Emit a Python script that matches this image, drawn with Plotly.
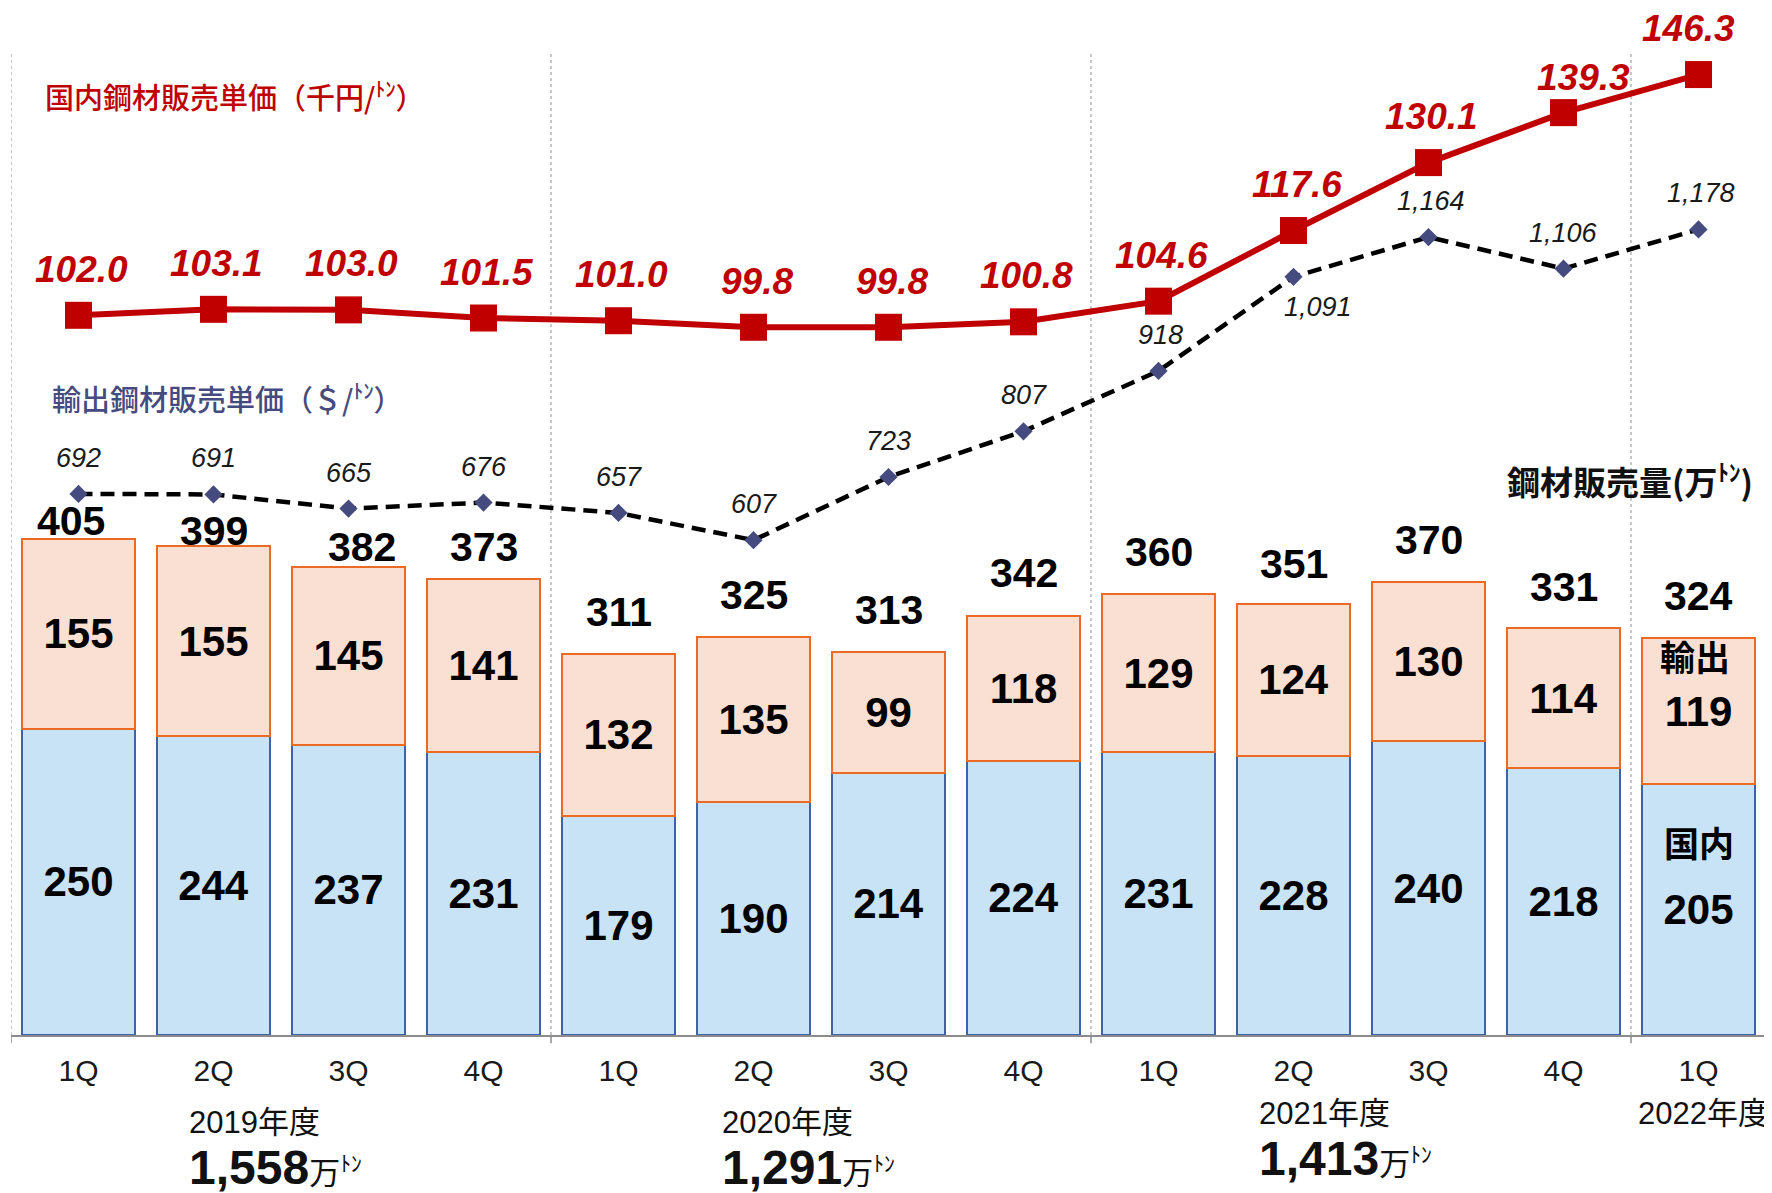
import plotly.graph_objects as go

# ---------------- data ----------------
categories = ["FY19-1Q", "FY19-2Q", "FY19-3Q", "FY19-4Q",
              "FY20-1Q", "FY20-2Q", "FY20-3Q", "FY20-4Q",
              "FY21-1Q", "FY21-2Q", "FY21-3Q", "FY21-4Q",
              "FY22-1Q"]
quarter_labels = ["1Q", "2Q", "3Q", "4Q", "1Q", "2Q", "3Q", "4Q",
                  "1Q", "2Q", "3Q", "4Q", "1Q"]
domestic_volume = [250, 244, 237, 231, 179, 190, 214, 224, 231, 228, 240, 218, 205]
export_volume = [155, 155, 145, 141, 132, 135, 99, 118, 129, 124, 130, 114, 119]
total_volume = [405, 399, 382, 373, 311, 325, 313, 342, 360, 351, 370, 331, 324]
domestic_price = [102.0, 103.1, 103.0, 101.5, 101.0, 99.8, 99.8, 100.8,
                  104.6, 117.6, 130.1, 139.3, 146.3]
export_price = [692, 691, 665, 676, 657, 607, 723, 807, 918, 1091, 1164, 1106, 1178]
fiscal_years = ["2019年度", "2020年度", "2021年度", "2022年度"]
annual_volume = ["1,558", "1,291", "1,413"]

# ---------------- style ----------------
LAT = "Liberation Sans Narrow, Liberation Sans, Arial, Noto Sans CJK JP"
CJK = "Noto Sans CJK JP, Liberation Sans"
RED = "#C00000"
NAVY = "#454B7E"

# label offsets (pixels)
total_dy = [18, 15, 20, 32, 42, 42, 42, 43, 42, 40, 42, 41, 42]
total_dx = [-8, 0, 13, 0, 0, 0, 0, 0, 0, 0, 0, 0, 0]
dprice_dy = [46, 46, 46, 46, 46, 46, 46, 46, 46, 46, 46, 35, 46]
dprice_dx = [3, 3, 3, 3, 3, 3, 3, 3, 3, 3, 3, 20, -10]
eprice_dy = [36, 36, 36, 36, 36, 36, 36, 36, 36, -30, 36, 36, 36]
eprice_dx = [0, 0, 0, 0, 0, 0, 0, 0, 2, 24, 2, 0, 2]

fig = go.Figure()

fig.add_trace(go.Bar(
    x=categories, y=domestic_volume, name="国内", yaxis="y",
    width=0.84,
    marker=dict(color="#C7E3F5", line=dict(color="#3F62A8", width=2)),
    text=domestic_volume, textposition="inside", insidetextanchor="middle",
    textangle=0, constraintext="none",
    textfont=dict(family=LAT, size=42, color="black", weight="bold"),
    hoverinfo="skip",
))
fig.add_trace(go.Bar(
    x=categories, y=export_volume, name="輸出", yaxis="y",
    width=0.84,
    marker=dict(color="#FADFD3", line=dict(color="#EC6B24", width=2)),
    text=export_volume, textposition="inside", insidetextanchor="middle",
    textangle=0, constraintext="none",
    textfont=dict(family=LAT, size=42, color="black", weight="bold"),
    hoverinfo="skip",
))

fig.add_trace(go.Scatter(
    x=categories, y=export_price, yaxis="y3", mode="lines+markers",
    line=dict(color="black", width=4.5, dash="14px,8px"),
    marker=dict(symbol="diamond", size=14, color=NAVY),
    hoverinfo="skip",
))
fig.add_trace(go.Scatter(
    x=categories, y=domestic_price, yaxis="y2", mode="lines+markers",
    line=dict(color=RED, width=6),
    marker=dict(symbol="square", size=27, color=RED),
    hoverinfo="skip",
))

ann = []
for i, c in enumerate(categories):
    ann.append(dict(x=c, y=domestic_volume[i] + export_volume[i], xref="x", yref="y",
                    text=str(total_volume[i]), showarrow=False, yanchor="middle",
                    yshift=total_dy[i], xshift=total_dx[i],
                    font=dict(family=LAT, size=41, color="black", weight="bold")))
    ann.append(dict(x=c, y=domestic_price[i], xref="x", yref="y2",
                    text=f"{domestic_price[i]:.1f}", showarrow=False, yanchor="middle",
                    yshift=dprice_dy[i], xshift=dprice_dx[i],
                    font=dict(family=LAT, size=37, color=RED, weight="bold", style="italic")))
    ann.append(dict(x=c, y=export_price[i], xref="x", yref="y3",
                    text=f"{export_price[i]:,}", showarrow=False, yanchor="middle",
                    yshift=eprice_dy[i], xshift=eprice_dx[i],
                    font=dict(family=LAT, size=27, color="#1a1a1a", style="italic")))

# segment names inside last bar
last = categories[-1]
ann.append(dict(x=last, y=domestic_volume[-1] + export_volume[-1] / 2, xref="x", yref="y",
                text="輸出", showarrow=False, yshift=56, xshift=-4,
                font=dict(family=CJK, size=35, color="black", weight="bold")))
ann.append(dict(x=last, y=domestic_volume[-1] / 2, xref="x", yref="y",
                text="国内", showarrow=False, yshift=68,
                font=dict(family=CJK, size=35, color="black", weight="bold")))

# titles
ann.append(dict(x=0.018, y=1, xref="paper", yref="paper", xanchor="left", yanchor="middle",
                yshift=-87, showarrow=False,
                text="国内鋼材販売単価（千円/<sup>ﾄﾝ</sup>）",
                font=dict(family=CJK, size=29, color=RED, weight=500)))
ann.append(dict(x=0.0225, y=1, xref="paper", yref="paper", xanchor="left", yanchor="middle",
                yshift=-389, showarrow=False,
                text="輸出鋼材販売単価（＄/<sup>ﾄﾝ</sup>）",
                font=dict(family=CJK, size=29, color=NAVY, weight=500)))
ann.append(dict(x=0.9935, y=1, xref="paper", yref="paper", xanchor="right", yanchor="middle",
                yshift=-471, showarrow=False,
                text="鋼材販売量(万<sup>ﾄﾝ</sup>)",
                font=dict(family=CJK, size=33, color="#111111", weight="bold")))

# fiscal year labels and annual totals
year_x = [0.80, 4.75, 8.73, 11.54]
year_dy = [-87, -87, -78, -78]
for i, yl in enumerate(fiscal_years):
    ann.append(dict(x=year_x[i], y=0, xref="x", yref="paper", xanchor="left", yanchor="middle",
                    yshift=year_dy[i], showarrow=False, text=yl,
                    font=dict(family=LAT, size=31, color="#111111")))
total_dy_year = [-132, -132, -123]
for i, tv in enumerate(annual_volume):
    ann.append(dict(x=year_x[i], y=0, xref="x", yref="paper", xanchor="left", yanchor="middle",
                    yshift=total_dy_year[i], showarrow=False,
                    text=f"<b>{tv}</b><span style='font-size:31px;font-weight:normal'>万<sup>ﾄﾝ</sup></span>",
                    font=dict(family=LAT, size=48, color="#111111")))

shapes = []
for xb in [-0.5, 3.5, 7.5, 11.5]:
    shapes.append(dict(type="line", xref="x", yref="paper", x0=xb, x1=xb, y0=0, y1=0.958,
                       line=dict(color="#b5b5b5", width=1.5, dash="dot"), layer="below"))
    shapes.append(dict(type="line", xref="x", yref="paper", x0=xb, x1=xb, y0=0, y1=-0.008,
                       line=dict(color="#8c8c8c", width=1.5)))

# page body has an 8px margin: figure is sized to fill the window from there
fig.update_layout(
    width=1764, height=1185, autosize=False,
    margin=dict(l=3, r=6, t=0, b=158),
    paper_bgcolor="white", plot_bgcolor="white",
    barmode="stack", showlegend=False,
    xaxis=dict(type="category", categoryorder="array", categoryarray=categories,
               tickvals=categories, ticktext=quarter_labels, range=[-0.5, 12.5],
               showline=True, linecolor="#8c8c8c", linewidth=1.5, ticks="",
               ticklabelstandoff=8, showgrid=False, zeroline=False,
               tickfont=dict(family=LAT, size=30, color="#1a1a1a")),
    yaxis=dict(range=[0, 838.4], visible=False, showgrid=False, zeroline=False),
    yaxis2=dict(range=[-30.44, 158.55], overlaying="y", visible=False, showgrid=False, zeroline=False),
    yaxis3=dict(range=[-302.5, 1585.0], overlaying="y", visible=False, showgrid=False, zeroline=False),
    annotations=ann, shapes=shapes,
)

fig.write_html("out.html")
